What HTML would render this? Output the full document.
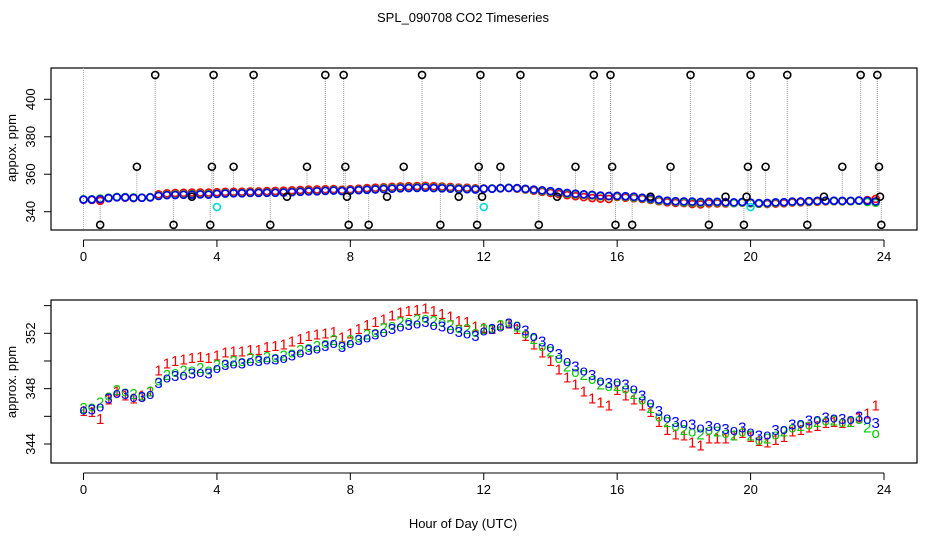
<!DOCTYPE html>
<html><head><meta charset="utf-8"><style>
body{margin:0;background:#fff}
svg{display:block;font-family:"Liberation Sans",sans-serif}
</style></head><body>
<svg id="c" width="936" height="540" xmlns="http://www.w3.org/2000/svg">
<text x="463" y="22" text-anchor="middle" font-size="13">SPL_090708  CO2 Timeseries</text>
<text x="463" y="528" text-anchor="middle" font-size="13">Hour of Day (UTC)</text>
<text transform="translate(16,148) rotate(-90)" text-anchor="middle" font-size="13">appox. ppm</text>
<text transform="translate(16,382) rotate(-90)" text-anchor="middle" font-size="13">approx. ppm</text>
<g id="top"></g>
<g id="bot"></g>
</svg>
<script>
const hoursStep = 0.25;
const xTicks = [0,4,8,12,16,20,24];
const topYTicks = [340,360,380,400];
const botYTicks = [344,346,348,350,352,354];
const botYLabels = [344,348,352];
const blue = [346.5,346.5,346.7,347.3,347.7,347.6,347.4,347.4,
347.6,348.4,348.8,348.9,349.0,349.1,349.2,349.1,
349.5,349.7,349.8,349.8,350.0,350.0,350.1,350.1,
350.2,350.4,350.6,350.8,350.9,351.1,351.3,351.0,
351.3,351.5,351.7,351.9,352.1,352.3,352.5,352.6,
352.7,352.8,352.6,352.5,352.3,352.1,352.0,351.8,
352.2,352.3,352.5,352.7,352.6,352.2,351.8,351.4,
351.0,350.5,350.0,349.6,349.3,349.0,348.6,348.4,
348.5,348.3,348.0,347.5,347.0,346.4,345.9,345.6,
345.5,345.4,345.2,345.3,345.3,345.1,345.0,345.2,
344.9,344.6,344.7,345.0,345.1,345.4,345.5,345.7,
345.8,345.9,345.9,345.8,345.8,346.0,345.8,345.5];
const green = [346.6,346.7,347.0,347.5,347.9,347.8,347.6,347.5,
347.8,348.6,349.0,349.2,349.3,349.4,349.5,349.4,
349.7,349.9,350.0,350.0,350.2,350.2,350.3,350.3,
350.4,350.6,350.8,351.0,351.1,351.3,351.5,351.2,
351.5,351.7,351.9,352.1,352.4,352.6,352.8,352.9,
353.0,353.1,352.9,352.8,352.6,352.4,352.3,352.1,
352.3,352.4,352.6,352.8,352.5,352.0,351.6,351.1,
350.7,350.2,349.6,349.2,349.0,348.7,348.3,348.2,
348.2,348.0,347.6,347.2,346.6,346.0,345.6,345.3,
345.0,344.9,344.7,345.0,344.9,344.8,344.6,344.9,
344.6,344.3,344.4,344.7,344.9,345.2,345.3,345.4,
345.6,345.7,345.7,345.6,345.6,345.8,345.2,344.8];
const red = [346.4,346.3,345.8,347.2,347.8,347.5,347.3,347.5,
347.8,349.3,349.8,350.0,350.1,350.2,350.3,350.2,
350.4,350.6,350.7,350.7,350.8,350.8,351.0,351.1,
351.2,351.4,351.6,351.8,351.9,352.0,352.1,351.7,
352.0,352.3,352.6,352.8,353.0,353.3,353.5,353.6,
353.7,353.8,353.6,353.4,353.2,352.9,352.8,352.5,
352.4,352.3,352.6,352.7,352.3,351.8,351.2,350.6,
350.0,349.4,348.8,348.3,347.8,347.3,347.0,346.8,
347.9,347.5,347.2,346.8,346.3,345.6,345.0,344.7,
344.6,344.1,343.9,344.4,344.4,344.4,344.6,344.8,
344.5,344.2,344.1,344.3,344.5,344.9,345.0,345.2,
345.3,345.5,345.6,345.5,345.6,345.9,346.2,346.8];
const outT = [0.5,1.6,2.15,2.7,3.25,3.8,3.85,3.9,4.5,5.1,5.6,6.1,6.7,7.25,7.8,7.85,7.9,7.95,8.55,9.1,9.6,10.15,10.7,11.25,11.8,11.85,11.9,11.95,12.5,13.1,13.65,14.2,14.75,15.3,15.8,15.85,15.95,16.45,17.0,17.6,18.2,18.75,19.25,19.8,19.88,19.92,20.0,20.45,21.1,21.7,22.2,22.75,23.3,23.8,23.85,23.88,23.92];
const outV = [333,364,413,333,348,333,364,413,364,413,333,348,364,413,413,364,348,333,333,348,364,413,333,348,333,364,413,348,364,413,333,348,364,413,413,364,333,333,348,364,413,333,348,333,348,364,413,364,413,333,348,364,413,413,364,348,333];
const cyanT = [4.0,12.0,20.0];
const cyanV = [342.5,342.5,342.5];

const NS="http://www.w3.org/2000/svg";
function mk(parent,tag,attrs){const e=document.createElementNS(NS,tag);for(const k in attrs)e.setAttribute(k,attrs[k]);parent.appendChild(e);return e;}
const X = h => 83.5 + h*(800.5/24);
const Yt = v => 211.7 - (v-340)*(112.4/60);
const Yb = v => 444 - (v-344)*(110.7/8);
const gTop=document.getElementById('top'), gBot=document.getElementById('bot');

function frame(g,y0,y1,Y,yt,yl,name){
  const r=mk(g,'rect',{x:51,y:y0,width:866,height:y1-y0,fill:'none',stroke:'#000','stroke-width':1.2});
  
  
  mk(g,'line',{x1:X(0),x2:X(24),y1:y1+10,y2:y1+10,stroke:'#000'});
  xTicks.forEach(t=>{
    mk(g,'line',{x1:X(t),x2:X(t),y1:y1+10,y2:y1+17,stroke:'#000'});
    const tx=mk(g,'text',{x:X(t),y:y1+31,'text-anchor':'middle','font-size':13});
    tx.textContent=t;
    
    
  });
  yt.forEach(v=>{
    mk(g,'line',{x1:44,x2:51,y1:Y(v),y2:Y(v),stroke:'#000'});
    if(yl.includes(v)){
      const tx=mk(g,'text',{transform:`translate(${35},${Y(v)}) rotate(-90)`,'text-anchor':'middle','font-size':13});
      tx.textContent=v;
      
      
    }
  });
}
frame(gTop,68,230,Yt,topYTicks,topYTicks,'top');
frame(gBot,300,463,Yb,botYTicks,botYLabels,'bottom');

mk(gTop,'line',{x1:X(0),x2:X(0),y1:68,y2:230,stroke:'#aaa','stroke-dasharray':'1,1'});
outT.forEach((t,i)=>{
  const base=blue[Math.min(blue.length-1,Math.round(t/hoursStep))];
  mk(gTop,'line',{x1:X(t),x2:X(t),y1:Yt(outV[i]),y2:Yt(base),stroke:'#999','stroke-dasharray':'1,1'});
});
[[red,'#f00'],[green,'#0c0'],[blue,'#00f']].forEach(([arr,col])=>{
  arr.forEach((v,i)=>{
    const c=mk(gTop,'circle',{cx:X(i*hoursStep),cy:Yt(v),r:3.5,fill:'none',stroke:col,'stroke-width':1.6});
    
    
  });
});
outT.forEach((t,i)=>{
  const c=mk(gTop,'circle',{cx:X(t),cy:Yt(outV[i]),r:3.5,fill:'none',stroke:'#000','stroke-width':1.6});
  
  
});
cyanT.forEach((t,i)=>{
  const c=mk(gTop,'circle',{cx:X(t),cy:Yt(cyanV[i]),r:3.5,fill:'none',stroke:'#0dd','stroke-width':1.6});
  
  
});

red.forEach((v,i)=>{
  const tx=mk(gBot,'text',{x:X(i*hoursStep),y:Yb(v)+5,'text-anchor':'middle','font-size':15,fill:'#f00'});
  tx.textContent='1';
  
  
});
green.forEach((v,i)=>{
  const tx=mk(gBot,'text',{x:X(i*hoursStep),y:Yb(v)+5,'text-anchor':'middle','font-size':15,fill:'#0c0'});
  tx.textContent=i%2?'o':'2';
  
  
});
blue.forEach((v,i)=>{
  const tx=mk(gBot,'text',{x:X(i*hoursStep),y:Yb(v)+5,'text-anchor':'middle','font-size':15,fill:'#00f'});
  tx.textContent=i%2?'3':'o';
  
  
});
</script>
</body></html>
